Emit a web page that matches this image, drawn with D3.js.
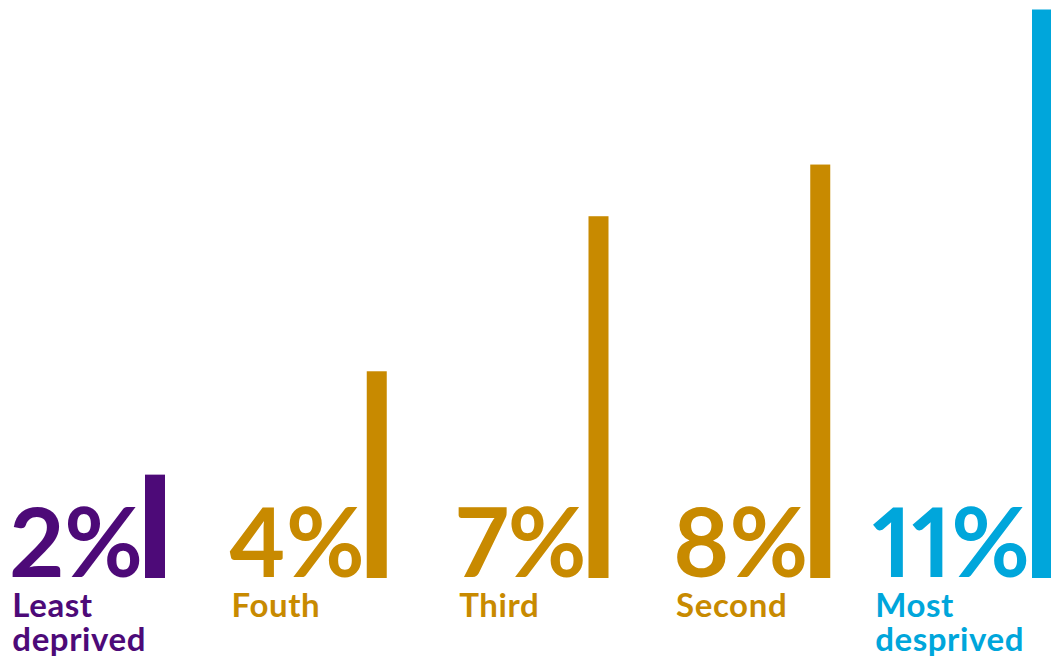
<!DOCTYPE html>
<html>
<head>
<meta charset="utf-8">
<script src="https://cdn.jsdelivr.net/npm/d3@7"></script>
<style>
  html, body { margin: 0; padding: 0; background: #ffffff; }
  svg { display: block; }
  .num { font-family: Lato, "Noto Sans", sans-serif; font-weight: 700; font-variant-numeric: proportional-nums; font-feature-settings: "pnum" 1; }
  .lab { font-family: Lato, "Noto Sans", sans-serif; font-weight: 700; letter-spacing: 0.6px; }
</style>
</head>
<body>
<svg id="chart" width="1051" height="662"></svg>
<script>
// Deprivation quintiles and their shares
const categories = ["Least deprived", "Fouth", "Third", "Second", "Most desprived"];
const labelLines = [["Least", "deprived"], ["Fouth"], ["Third"], ["Second"], ["Most", "desprived"]];
const values = [2, 4, 7, 8, 11];
const colors = ["#4d0a78", "#c88a00", "#c88a00", "#c88a00", "#00a6db"];

const width = 1051, height = 662;
const baseline = 578;
const barWidth = 20;

const svg = d3.select("#chart");

// Bar positions: right-aligned bar in each category slot
const x = d3.scalePoint()
  .domain(categories)
  .range([145, 1032]);

const y = d3.scaleLinear()
  .domain([0, 11])
  .range([baseline, 9.5]);

const g = svg.selectAll("g.item")
  .data(categories.map((c, i) => ({ c, v: values[i], col: colors[i], lines: labelLines[i] })))
  .join("g")
  .attr("class", "item");

g.append("rect")
  .attr("x", d => x(d.c))
  .attr("y", d => y(d.v))
  .attr("width", barWidth)
  .attr("height", d => y(0) - y(d.v))
  .attr("fill", d => d.col);

const nums = g.append("text")
  .attr("class", "num")
  .attr("x", d => x(d.c) - 2)
  .attr("y", baseline - 1)
  .attr("text-anchor", "end")
  .attr("font-size", 96)
  .attr("fill", d => d.col)
  .text(d => d.v + "%");

nums.each(function(d) {
  d.left = this.getBBox().x;
});

g.each(function(d) {
  const t = d3.select(this).append("text")
    .attr("class", "lab")
    .attr("font-size", 33)
    .attr("fill", d.col);
  t.selectAll("tspan")
    .data(d.lines)
    .join("tspan")
    .attr("x", d.left + 3)
    .attr("y", (l, i) => 617 + i * 34)
    .text(l => l);
});
</script>
</body>
</html>
